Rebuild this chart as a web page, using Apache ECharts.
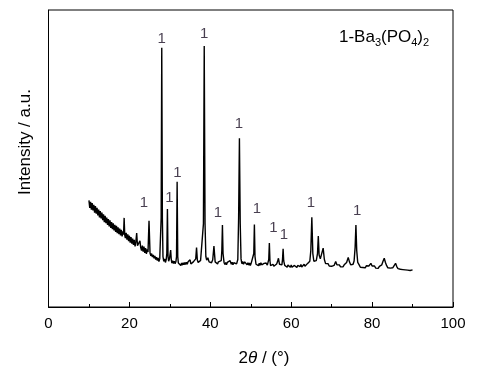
<!DOCTYPE html>
<html>
<head>
<meta charset="utf-8">
<script src="https://cdn.jsdelivr.net/npm/echarts@6/dist/echarts.min.js"></script>
<style>
html,body{margin:0;padding:0;background:#fff;}
#chart{width:503px;height:374px;}
</style>
</head>
<body>
<div id="chart"></div>
<script>
// 2theta (degrees)
var twoTheta = [
10.0,10.2,10.4,10.6,10.8,11.0,11.2,11.4,11.6,11.8,12.0,12.2,12.4,12.6,12.8,13.0,13.2,13.4,13.6,13.8,
14.0,14.2,14.4,14.6,14.8,15.0,15.2,15.4,15.6,15.8,16.0,16.2,16.4,16.6,16.8,17.0,17.2,17.4,17.6,17.8,
18.0,18.2,18.4,18.55,18.7,18.85,19.0,19.2,19.4,19.6,19.8,20.0,20.2,20.4,20.6,20.8,21.0,21.2,21.4,21.6,
21.8,22.0,22.2,22.4,22.6,22.8,23.0,23.2,23.4,23.6,23.8,24.0,24.2,24.4,24.6,24.85,25.1,25.3,25.5,25.7,
25.9,26.1,26.3,26.5,26.7,26.9,27.1,27.3,27.5,27.7,27.85,28.0,28.15,28.3,28.5,28.7,28.9,29.1,29.25,29.4,
29.55,29.7,29.9,30.05,30.2,30.35,30.5,30.7,30.9,31.1,31.3,31.5,31.65,31.8,31.95,32.1,32.3,32.5,32.7,32.9,
33.1,33.3,33.5,33.7,33.9,34.1,34.3,34.5,34.7,35.0,35.2,35.4,35.6,35.8,36.0,36.2,36.4,36.6,36.8,37.0,
37.2,37.4,37.6,37.8,38.0,38.3,38.5,38.7,38.9,39.1,39.4,39.7,40.0,40.3,40.6,40.9,41.2,41.4,41.6,41.8,
42.0,42.2,42.4,42.7,42.85,43.0,43.15,43.4,43.6,43.8,44.0,44.2,44.5,44.9,45.2,45.4,45.6,45.8,46.0,46.2,
46.5,46.8,47.0,47.2,47.4,47.6,47.8,48.0,48.2,48.5,48.7,48.9,49.1,49.3,49.5,49.7,49.9,50.1,50.3,50.5,
50.75,50.9,51.05,51.3,51.5,51.7,51.9,52.1,52.3,52.5,52.7,52.9,53.1,53.3,53.5,53.8,54.1,54.3,54.45,54.6,
54.75,54.9,55.1,55.3,55.5,55.7,55.9,56.1,56.4,56.6,56.85,57.1,57.3,57.5,57.7,57.85,58.0,58.15,58.4,58.6,
58.8,59.0,59.2,59.4,59.6,59.8,60.0,60.2,60.4,60.6,60.8,61.0,61.2,61.4,61.6,61.8,62.0,62.2,62.4,62.6,
62.8,63.0,63.2,63.4,63.6,63.8,64.0,64.3,64.6,64.85,65.1,65.35,65.6,65.9,66.2,66.5,66.7,66.9,67.2,67.5,
67.9,68.2,68.5,68.8,69.1,69.4,69.7,70.0,70.3,70.6,70.8,71.0,71.3,71.6,71.9,72.2,72.5,72.8,73.1,73.4,
73.7,74.1,74.4,74.7,75.0,75.3,75.55,75.8,76.0,76.2,76.45,76.8,77.1,77.4,77.7,78.0,78.3,78.6,78.9,79.2,
79.45,79.7,80.0,80.3,80.6,80.9,81.2,81.5,81.8,82.1,82.4,82.7,83.0,83.3,83.6,83.9,84.2,84.5,84.8,85.1,
85.4,85.8,86.1,86.4,86.7,87.0,87.3,87.6,87.9,88.2,88.5,88.8,89.1,89.4,89.7,90.0
];
// intensity (a.u.)
var intensity = [
35.9,33.4,35.4,32.8,35.0,32.5,34.4,31.8,34.0,31.4,33.4,30.8,32.8,30.2,32.3,29.8,31.8,29.2,31.2,28.6,
30.7,28.2,30.1,27.6,29.6,27.1,29.2,26.6,28.6,26.2,28.2,25.8,27.7,25.3,27.3,24.9,26.8,24.5,26.4,24.1,
26.0,23.8,25.5,24.4,30.0,24.2,23.2,25.0,22.7,24.5,22.2,24.0,21.7,23.5,21.3,23.0,20.9,22.6,20.4,22.0,
24.9,20.6,20.8,20.9,22.3,20.0,19.0,20.7,18.6,20.3,18.2,19.8,17.9,19.4,18.5,29.0,18.2,17.2,18.0,16.8,
17.5,16.4,17.2,16.0,16.8,15.6,16.5,15.3,16.2,16.8,30.0,87.3,30.0,17.0,15.4,16.2,15.0,16.0,18.0,33.0,
17.0,15.4,16.2,16.5,19.2,16.0,14.8,15.6,14.6,15.4,14.6,15.3,17.0,42.2,17.0,14.8,14.2,15.0,14.0,14.8,
14.1,14.9,14.2,15.0,14.3,15.1,14.4,15.2,14.6,15.9,14.5,15.1,14.4,15.2,14.6,15.4,16.2,20.0,15.8,15.0,
15.6,14.9,15.7,15.2,16.0,28.0,87.9,28.0,17.0,15.8,16.6,15.2,15.8,14.9,15.9,20.5,15.2,14.6,15.3,14.5,
15.2,14.6,15.4,15.6,19.0,27.6,18.0,15.0,14.3,15.0,14.2,15.0,14.6,15.6,14.4,15.1,14.2,14.9,14.3,15.0,
14.5,16.0,30.0,56.8,28.0,16.2,14.6,15.3,14.4,15.2,15.8,14.8,14.2,14.9,14.1,14.8,14.0,14.7,14.1,14.8,
18.0,27.8,17.0,14.4,13.8,14.6,13.9,14.7,14.0,14.9,14.2,14.8,14.0,14.7,14.1,14.8,14.1,14.6,16.0,21.5,
15.5,13.9,14.5,13.8,14.4,13.7,14.3,13.8,14.5,15.2,16.4,14.4,13.9,14.5,14.2,16.0,19.6,15.5,14.0,13.5,
14.2,13.4,14.1,13.5,14.2,13.4,14.1,13.4,14.0,13.3,14.0,13.4,14.1,13.3,14.0,13.5,14.2,13.6,14.3,13.5,
14.1,13.6,14.4,13.7,14.3,14.0,14.6,14.5,15.4,19.0,30.2,18.0,15.4,15.8,15.6,18.0,23.9,17.5,16.2,16.5,
19.8,16.0,14.6,14.0,14.6,13.8,14.4,13.7,14.3,14.0,14.5,15.3,14.2,13.6,14.2,13.5,14.1,13.5,14.2,14.0,
15.0,16.7,15.2,14.2,13.8,14.4,15.5,20.0,27.6,19.0,15.0,14.2,13.4,14.0,13.3,13.9,13.2,13.9,13.3,13.8,
14.3,14.7,13.8,13.2,13.8,13.1,13.7,13.0,13.7,13.3,14.2,15.4,16.4,15.0,13.9,13.2,13.8,13.1,13.6,13.2,
13.8,14.7,13.6,12.9,13.4,12.7,13.3,12.6,13.2,12.5,13.1,12.4,13.0,12.3,12.9,12.5
];
// peak marker labels "1": position (2theta) and label height (a.u.)
var markerTheta = [23.6, 28.0, 29.9, 31.85, 38.5, 41.9, 47.1, 51.5, 55.6, 58.2, 64.9, 76.3];
var markerHeight = [35.0, 90.2, 36.8, 45.0, 91.9, 31.6, 61.8, 33.0, 26.6, 24.3, 35.0, 32.4];
var markerText = '1';
var xTicks = [0, 20, 40, 60, 80, 100];

var curve = twoTheta.map(function (t, i) { return [t, intensity[i]]; });
var markers = markerTheta.map(function (t, i) { return [t, markerHeight[i]]; });

var chart = echarts.init(document.getElementById('chart'), null, {renderer: 'canvas'});
var FONT = '"Liberation Sans", Arial, sans-serif';
chart.setOption({
  animation: false,
  backgroundColor: '#ffffff',
  grid: {left: 48.5, right: 50, top: 10, bottom: 67, show: true, borderColor: '#000', borderWidth: 1, backgroundColor: 'transparent'},
  xAxis: {
    type: 'value', min: xTicks[0], max: xTicks[xTicks.length - 1], interval: 20,
    axisLine: {show: true, lineStyle: {color: '#000', width: 1}},
    axisTick: {show: true, inside: true, length: 5, lineStyle: {color: '#000'}},
    minorTick: {show: true, splitNumber: 2, length: 3, lineStyle: {color: '#000'}},
    splitLine: {show: false},
    axisLabel: {color: '#000', fontSize: 15, fontFamily: FONT, margin: 9}
  },
  yAxis: {
    type: 'value', min: 0, max: 100,
    axisLine: {show: true, lineStyle: {color: '#000', width: 1}},
    axisTick: {show: false}, axisLabel: {show: false}, splitLine: {show: false}
  },
  graphic: [
    {type: 'text', x: 25, y: 142, rotation: Math.PI / 2,
      style: {text: 'Intensity / a.u.', fill: '#000', font: '17px ' + FONT, textAlign: 'center', textVerticalAlign: 'middle'}},
    {type: 'text', x: 264, y: 358,
      style: {text: '2{i|θ} / (°)', fill: '#000', font: '17px ' + FONT, textAlign: 'center', textVerticalAlign: 'middle',
        rich: {i: {fontStyle: 'italic', fontSize: 17, fontFamily: FONT, fill: '#000'}}}},
    {type: 'text', left: 339, top: 29,
      style: {text: '1-Ba{s|3}(PO{s|4}){s|2}', fill: '#000', font: '17px ' + FONT,
        rich: {s: {fontSize: 11, fontFamily: FONT, fill: '#000', padding: [10, 0, 0, 0]}}}}
  ],
  series: [
    {type: 'line', data: curve, showSymbol: false, symbol: 'none',
      lineStyle: {color: '#000', width: 1.4}, z: 3},
    {type: 'scatter', data: markers, symbolSize: 1, itemStyle: {color: 'rgba(0,0,0,0)'},
      label: {show: true, position: 'inside', formatter: markerText, color: '#1a0f24', fontSize: 15, fontFamily: FONT}, z: 4}
  ]
});
</script>
</body>
</html>
